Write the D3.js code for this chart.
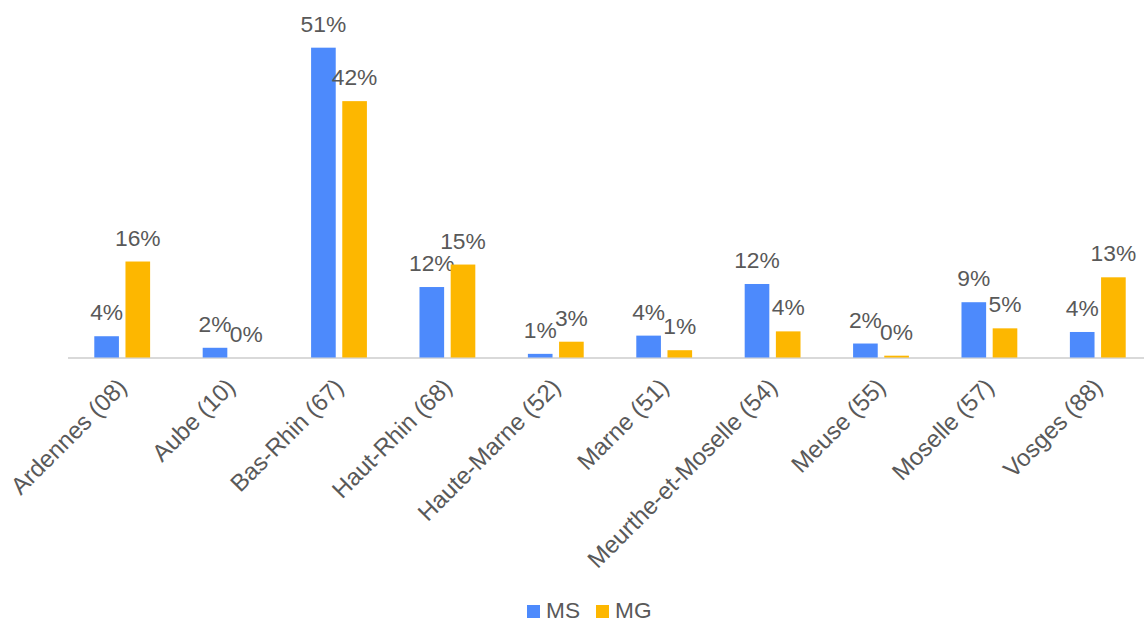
<!DOCTYPE html>
<html>
<head>
<meta charset="utf-8">
<script src="https://cdn.jsdelivr.net/npm/d3@7"></script>
<style>
  html, body { margin: 0; padding: 0; background: #fff; }
  svg { display: block; font-family: Arial, "Liberation Sans", sans-serif; }
</style>
</head>
<body>
<svg id="chart" width="1144" height="624"></svg>
<script>
// Departments (x categories)
const categories = [
  "Ardennes (08)", "Aube (10)", "Bas-Rhin (67)", "Haut-Rhin (68)",
  "Haute-Marne (52)", "Marne (51)", "Meurthe-et-Moselle (54)",
  "Meuse (55)", "Moselle (57)", "Vosges (88)"
];
// Share per department, in percent
const msValues = [3.5, 1.6, 51.0, 11.6, 0.6, 3.6, 12.1, 2.3, 9.1, 4.2];
const mgValues = [15.8, 0.0, 42.2, 15.3, 2.6, 1.2, 4.3, 0.3, 4.8, 13.2];
const seriesNames = ["MS", "MG"];
const seriesColors = ["#4d8afc", "#fdb700"];

const series = [msValues, mgValues];

const svg = d3.select("#chart");
const left = 68, step = 108.4, baseline = 357.5;

const x = d3.scaleBand().domain(categories).range([left, left + step * categories.length]);
const xs = d3.scaleBand().domain(seriesNames).range([0, x.bandwidth()]).paddingInner(0.21).paddingOuter(0.843);
const y = d3.scaleLinear().domain([0, 60]).range([baseline, baseline - 60 * 6.075]);

const textColor = "#595959";

// category axis line
svg.append("line")
  .attr("x1", left).attr("x2", 1144)
  .attr("y1", baseline + 0.5).attr("y2", baseline + 0.5)
  .attr("stroke", "#d9d9d9").attr("stroke-width", 2);

// bars and value labels
seriesNames.forEach((name, si) => {
  const rows = series[si].map((v, i) => ({ cat: categories[i], v }));
  const g = svg.append("g");
  g.selectAll("rect")
    .data(rows)
    .join("rect")
    .attr("x", d => x(d.cat) + xs(name))
    .attr("y", d => y(d.v))
    .attr("width", xs.bandwidth())
    .attr("height", d => y(0) - y(d.v))
    .attr("fill", seriesColors[si]);

  g.selectAll("text")
    .data(rows)
    .join("text")
    .attr("x", d => x(d.cat) + xs(name) + xs.bandwidth() / 2)
    .attr("y", d => y(d.v) - 16)
    .attr("text-anchor", "middle")
    .attr("fill", textColor)
    .attr("font-size", 22.8)
    .text(d => Math.round(d.v) + "%");
});

// category tick labels
const axis = svg.append("g").attr("transform", `translate(0,${baseline})`)
  .call(d3.axisBottom(x).tickSize(0).tickPadding(0));
axis.select(".domain").remove();
axis.selectAll(".tick text")
  .attr("fill", textColor)
  .attr("font-size", 24)
  .attr("font-family", "Arial, 'Liberation Sans', sans-serif")
  .attr("text-anchor", "end")
  .attr("dy", 0)
  .attr("transform", "translate(6,31) rotate(-45)");

// legend
const legend = svg.append("g").attr("transform", "translate(527,605)");
const legendOffsets = [0, 69];
seriesNames.forEach((name, i) => {
  const item = legend.append("g").attr("transform", `translate(${legendOffsets[i]},0)`);
  item.append("rect").attr("width", 13).attr("height", 13).attr("fill", seriesColors[i]);
  item.append("text").attr("x", 19).attr("y", 13).attr("fill", textColor)
    .attr("font-size", 22.7).text(name);
});
</script>
</body>
</html>
